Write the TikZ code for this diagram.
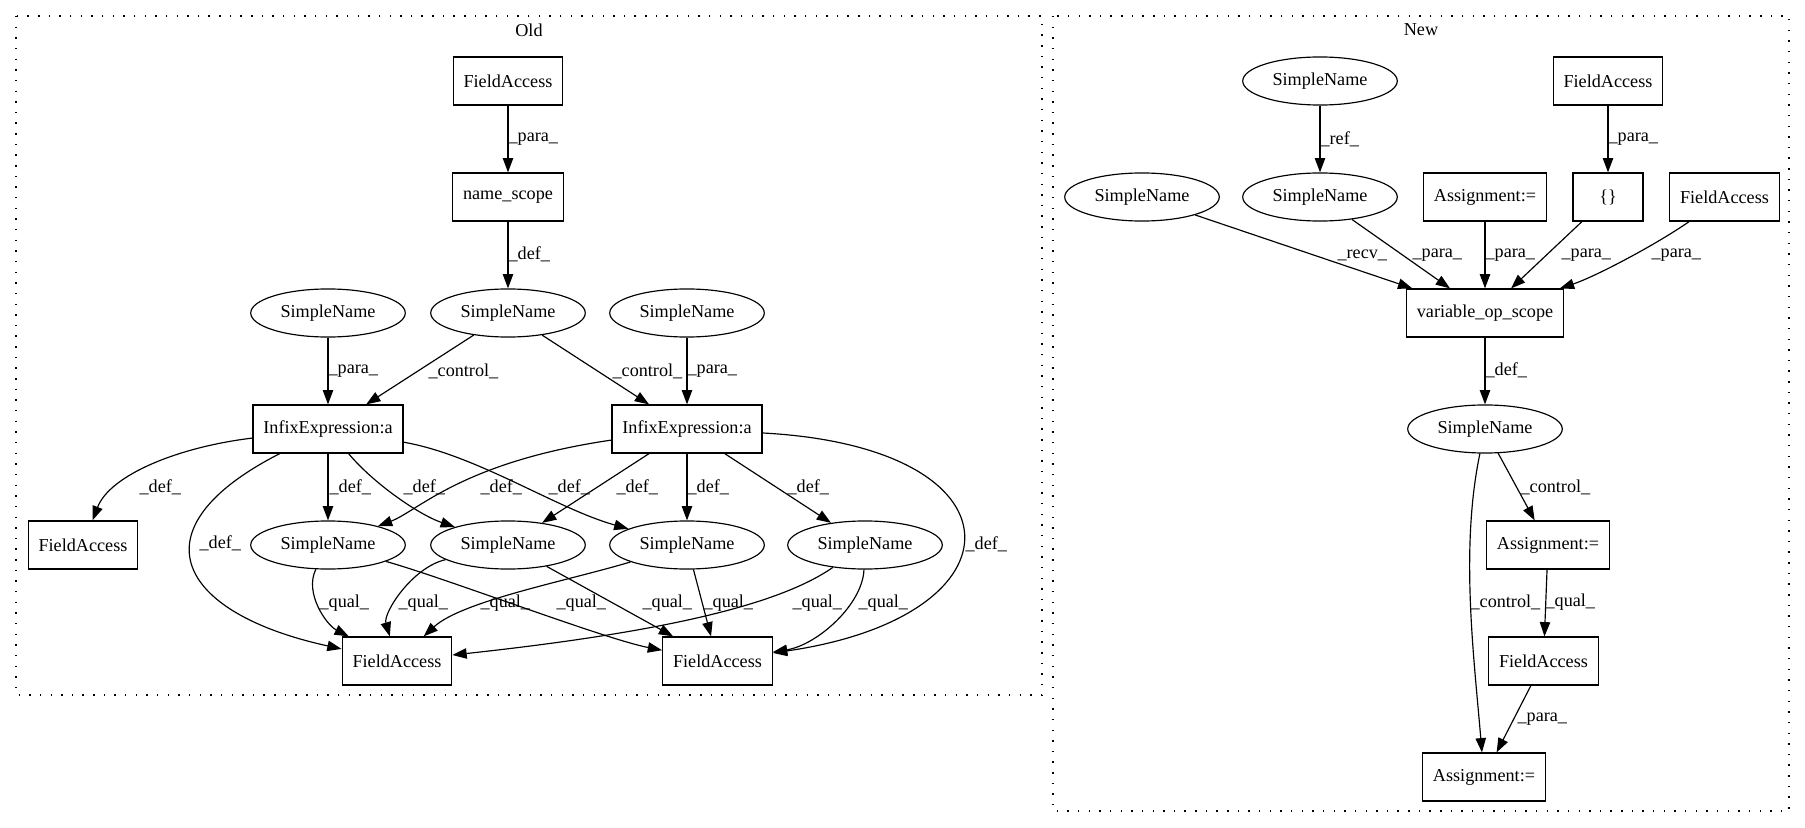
\documentclass[tikz,border=0pt]{standalone}
\usepackage{fontspec}
\setmainfont{Liberation Serif}
\usetikzlibrary{arrows.meta,shapes.geometric}

\tikzset{
	box/.style={draw, rectangle, minimum width=54pt, minimum height=37pt, inner xsep=8pt, inner ysep=0pt},
	sname/.style={draw, ellipse, minimum width=119pt, minimum height=37pt, inner sep=0pt},
	edge/.style={-{Triangle[length=11pt,width=8pt]}},
	lbl/.style={anchor=west, inner sep=0pt},
	cluster/.style={dash pattern=on 1.1pt off 7.1pt},
}

\begin{document}
\begin{tikzpicture}[x=0.77pt, y=-0.77pt, line width=0.9pt, font=\fontsize{14}{16}\selectfont]
			%%%%% START %%%%%
			\useasboundingbox (0,0) rectangle (1805,828);
			
			\draw[cluster] (16,16) rectangle (1042,695);
			\draw[cluster] (1053,16) rectangle (1789,811);
			\node (old) at (529,30) {Old};
			\node (new) at (1421,30) {New};
			
			%%%%% OLD %%%%%
			\node[box] (oFA) at (508,81) {FieldAccess};
			\node[box] (ns) at (508,197) {name\_scope};
			\node[sname] (oSNl) at (328,313) {SimpleName};
			\node[sname] (oSNm) at (508,313) {SimpleName};
			\node[sname] (oSNr) at (687,313) {SimpleName};
			\node[box] (infL) at (328,429) {InfixExpression:a};
			\node[box] (infR) at (687,429) {InfixExpression:a};
			\node[box] (oFA1) at (83,545) {FieldAccess};
			\node[sname] (sn1) at (328,545) {SimpleName};
			\node[sname] (sn2) at (508,545) {SimpleName};
			\node[sname] (sn3) at (687,545) {SimpleName};
			\node[sname] (sn4) at (865,545) {SimpleName};
			\node[box] (oFA2) at (397,661) {FieldAccess};
			\node[box] (oFA3) at (717.5,661) {FieldAccess};
			
			\draw[edge] (oFA) -- (ns) node[lbl] (l1) at (508,139) {\_para\_};
			\draw[edge] (ns) -- (oSNm) node[lbl] (l2) at (508,254) {\_def\_};
			\draw[edge] (oSNl) -- (infL) node[lbl] (l3) at (328,371) {\_para\_};
			\draw[edge] (oSNm) -- (infL) node[lbl] (l4) at (428,371) {\_control\_};
			\draw[edge] (oSNm) -- (infR) node[lbl] (l5) at (612,371) {\_control\_};
			\draw[edge] (oSNr) -- (infR) node[lbl] (l6) at (687,371) {\_para\_};
			
			\draw[edge] (infL) .. controls (178,447) and (110,475) .. (oFA1) node[lbl] (l7) at (139,487) {\_def\_};
			\draw[edge] (infL) .. controls (132,529) and (177,613) .. (oFA2) node[lbl] (l8) at (199,543) {\_def\_};
			\draw[edge] (infL) -- (sn1) node[lbl] (l9) at (329,487) {\_def\_};
			\draw[edge] (infL) .. controls (374,484) and (419.5,515) .. (sn2) node[lbl] (l10) at (403,487) {\_def\_};
			\draw[edge] (infL) .. controls (477,455) and (557,509) .. (sn3) node[lbl] (l11) at (548,487) {\_def\_};
			\draw[edge] (infR) .. controls (462,462) and (418,511) .. (sn1) node[lbl] (l12) at (480,487) {\_def\_};
			\draw[edge] (infR) -- (sn2) node[lbl] (l13) at (616,487) {\_def\_};
			\draw[edge] (infR) -- (sn3) node[lbl] (l14) at (687,487) {\_def\_};
			\draw[edge] (infR) -- (sn4) node[lbl] (l15) at (787,487) {\_def\_};
			\draw[edge] (infR) .. controls (1028,447) and (1028,616) .. (oFA3) node[lbl] (l16) at (965,544) {\_def\_};
			
			\draw[edge] (sn1) .. controls (304,593) and (326.5,625) .. (oFA2) node[lbl] (l17) at (319,603) {\_qual\_};
			\draw[edge] (sn1) .. controls (448,579) and (604.5,639) .. (oFA3) node[lbl] (l18) at (556,603) {\_qual\_};
			\draw[edge] (sn2) .. controls (412,567.5) and (383,613) .. (oFA2) node[lbl] (l19) at (398,603) {\_qual\_};
			\draw[edge] (sn2) -- (oFA3) node[lbl] (l20) at (642,603) {\_qual\_};
			\draw[edge] (sn3) .. controls (567,581) and (462,601) .. (oFA2) node[lbl] (l21) at (480,603) {\_qual\_};
			\draw[edge] (sn3) -- (oFA3) node[lbl] (l22) at (703,603) {\_qual\_};
			\draw[edge] (sn4) .. controls (782.5,602.5) and (674.5,631) .. (oFA2) node[lbl] (l23) at (792,603) {\_qual\_};
			\draw[edge] (sn4) .. controls (862.5,605) and (817,645) .. (oFA3) node[lbl] (l24) at (858,603) {\_qual\_};
			
			%%%%% NEW %%%%%
			\node[sname] (nSNt) at (1320,81) {SimpleName};
			\node[box] (nFAt) at (1608,81) {FieldAccess};
			\node[sname] (nSNl) at (1142,197) {SimpleName};
			\node[sname] (nSNm) at (1320,197) {SimpleName};
			\node[box] (asg1) at (1485,197) {Assignment:=};
			\node[box] (brc) at (1608,197) {\{\}};
			\node[box] (nFAr) at (1724.5,197) {FieldAccess};
			\node[box] (vos) at (1485,313) {variable\_op\_scope};
			\node[sname] (nSNd) at (1485,429) {SimpleName};
			\node[box] (asg2) at (1548,545) {Assignment:=};
			\node[box] (nFAb) at (1543.5,661) {FieldAccess};
			\node[box] (asg3) at (1484,777) {Assignment:=};
			
			\draw[edge] (nSNt) -- (nSNm) node[lbl] (l25) at (1320,139) {\_ref\_};
			\draw[edge] (nFAt) -- (brc) node[lbl] (l26) at (1608,139) {\_para\_};
			\draw[edge] (nSNl) -- (vos) node[lbl] (l27) at (1337,255) {\_recv\_};
			\draw[edge] (nSNm) -- (vos) node[lbl] (l28) at (1412,255) {\_para\_};
			\draw[edge] (asg1) -- (vos) node[lbl] (l29) at (1485,255) {\_para\_};
			\draw[edge] (brc) -- (vos) node[lbl] (l30) at (1561,255) {\_para\_};
			\draw[edge] (nFAr) .. controls (1655.5,245) and (1594.5,277) .. (vos) node[lbl] (l31) at (1651,255) {\_para\_};
			\draw[edge] (vos) -- (nSNd) node[lbl] (l32) at (1485,370) {\_def\_};
			\draw[edge] (nSNd) -- (asg2) node[lbl] (l33) at (1520,487) {\_control\_};
			\draw[edge] (nSNd) .. controls (1460,549) and (1474,657) .. (asg3) node[lbl] (l34) at (1470,602) {\_control\_};
			\draw[edge] (asg2) -- (nFAb) node[lbl] (l35) at (1545,602) {\_qual\_};
			\draw[edge] (nFAb) -- (asg3) node[lbl] (l36) at (1517,719) {\_para\_};
			
			%%%%% END %%%%%
\end{tikzpicture}
\end{document}
